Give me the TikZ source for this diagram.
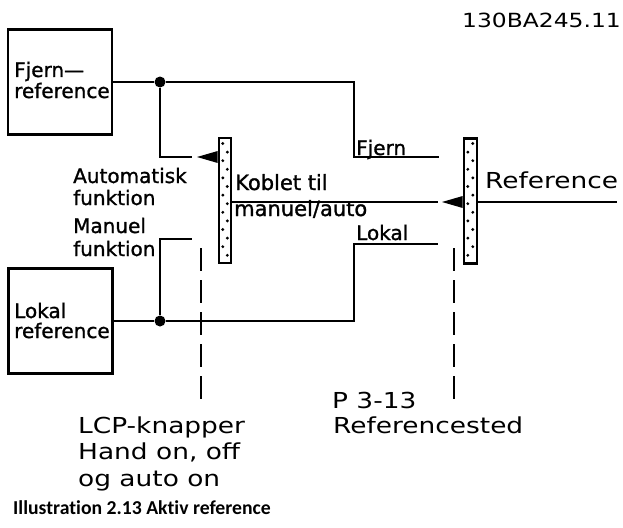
\documentclass[tikz,border=0pt]{standalone}
\usepackage{fontspec}
\setmainfont{DejaVu Sans}
\newfontfamily\cadfont[FakeBold=1.2]{DejaVu Sans}
\newfontfamily\widefont[FakeStretch=1.2]{DejaVu Sans}
\newfontfamily\capfont[Ligatures=NoCommon]{Carlito}
\tikzset{
  wire/.style={line width=2.8pt},
  refbox/.style={draw, line width=2.8pt, minimum width=104pt, minimum height=105pt, inner sep=0pt},
  junction/.style={circle, fill, inner sep=0pt, minimum size=11pt},
  barbox/.style={draw, line width=2.6pt, fill=white, minimum width=12pt, minimum height=125pt, inner sep=0pt},
  cad/.style={font=\cadfont\fontsize{20}{22}\selectfont, inner sep=0pt, anchor=base west},
  wide/.style={font=\widefont\fontsize{22}{26.5}\selectfont, inner sep=0pt, anchor=base west},
  dashline/.style={line width=2.6pt, dash pattern=on 23pt off 9pt},
  contact/.style={fill=black},
  dotfill/.style={fill=black}
}
\begin{document}
\begin{tikzpicture}[x=1pt,y=-1pt]
\useasboundingbox (0,0) rectangle (623,527);

% boxes
\node[refbox] (fjbox) at (60,82) {};
\node[refbox] (lobox) at (60.5,321) {};
\node[cad] (fjt1) at (14,77) {Fjern—};
\node[cad] (fjt2) at (14,98) {reference};
\node[cad] (lot1) at (14,318) {Lokal};
\node[cad] (lot2) at (14,338) {reference};

% bars
\node[barbox] (bar1) at (225,200.5) {};
\node[barbox, minimum width=13pt] (bar2) at (470.5,201) {};
\foreach \k in {0,...,13}{
  \fill[dotfill] ({219+3.8+4.5*mod(\k,2)},{143.5+\k*8.6}) circle (1.6pt);
  \fill[dotfill] ({464+3.8+5*mod(\k+1,2)},{143.5+\k*8.6}) circle (1.6pt);
}

% junctions
\node[junction] (j1) at (160,82) {};
\node[junction] (j2) at (160,321) {};

% coordinates
\coordinate (fjc1) at (354,82);
\coordinate (fjc2) at (354,157);
\coordinate (fjend) at (439,157);
\coordinate (auc1) at (160,157);
\coordinate (auend) at (192,157);
\coordinate (mac1) at (160,239);
\coordinate (maend) at (192,239);
\coordinate (loc1) at (354,321);
\coordinate (loc2) at (354,244);
\coordinate (loend) at (438,244);
\coordinate (cpend) at (438,202);
\coordinate (refend) at (617,202);
\coordinate (tip1) at (197,157);
\coordinate (tip2) at (442,202);
\coordinate (d1top) at (201,248);
\coordinate (d1bot) at (201,405);
\coordinate (d2top) at (454,248);
\coordinate (d2bot) at (454,405);

% wires
\draw[wire] (fjbox.east) -- (j1) -- (fjc1) -- (fjc2) -- (fjend);
\draw[wire] (j1) -- (auc1) -- (auend);
\draw[wire] (lobox.east) -- (j2) -- (loc1) -- (loc2) -- (loend);
\draw[wire] (j2) -- (mac1) -- (maend);
\draw[wire] (bar1.east |- cpend) -- (cpend);
\draw[wire] (bar2.east |- refend) -- (refend);

% contacts
\fill[contact] (tip1) -- (bar1.west |- 0,151) -- (bar1.west |- 0,163) -- cycle;
\fill[contact] (tip2) -- (bar2.west |- 0,196) -- (bar2.west |- 0,208) -- cycle;

% dashed lines
\draw[dashline] (d1top) -- (d1bot);
\draw[dashline] (d2top) -- (d2bot);

% labels
\node[cad] (lfjern) at (356,155) {Fjern};
\node[cad] (llokal) at (356,240) {Lokal};
\node[cad, font=\cadfont\fontsize{21}{22}\selectfont] (lkob) at (235,190) {Koblet til};
\node[cad, font=\cadfont\fontsize{21}{22}\selectfont] (lman) at (234,216) {manuel/auto};
\node[cad] (la1) at (73,183) {Automatisk};
\node[cad] (la2) at (73,205) {funktion};
\node[cad] (lm1) at (73,233) {Manuel};
\node[cad] (lm2) at (73,256) {funktion};
\node[wide] (lref) at (485,188) {Reference};
\node[wide, font=\widefont\fontsize{19.5}{22}\selectfont] (lid) at (462,28) {130BA245.11};
\node[wide] (lp1) at (332,408) {P 3-13};
\node[wide] (lp2) at (333,433) {Referencested};
\node[wide] (lc1) at (78,433) {LCP-knapper};
\node[wide] (lc2) at (78,459.5) {Hand on, off};
\node[wide] (lc3) at (78,486) {og auto on};
\node[inner sep=0pt, anchor=base west, font=\capfont\bfseries\fontsize{19.7}{22}\selectfont] (cap) at (13,514) {Illustration 2.13 Aktiv reference};
\end{tikzpicture}
\end{document}
